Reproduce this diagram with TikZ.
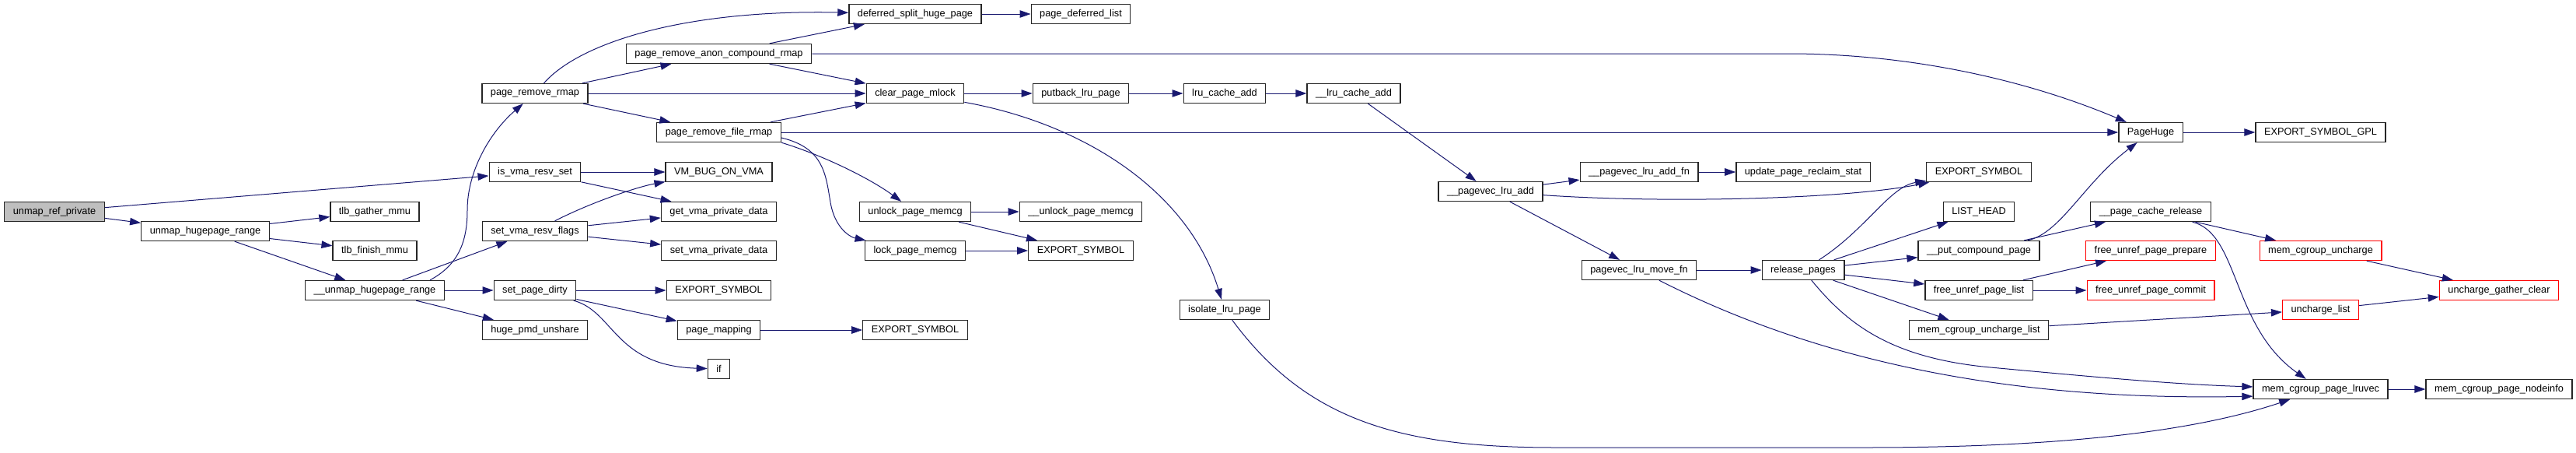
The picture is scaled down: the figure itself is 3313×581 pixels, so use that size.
\documentclass[tikz,border=0pt]{standalone}
\definecolor{dxBlue}{RGB}{25, 25, 112}
\definecolor{dxRed}{RGB}{255, 0, 0}
\definecolor{dxGray}{RGB}{191, 191, 191}
\usepackage{fontspec}
\setmainfont{Liberation Sans}
\usepackage{tikz}
\usetikzlibrary{arrows.meta}

\begin{document}
\begin{tikzpicture}[
    x=1pt, y=-1pt,
    fn/.style={rectangle, draw=black!85, fill=white, line width=1.3pt,
               minimum height=25pt, inner xsep=11pt, inner ysep=0pt,
               font=\fontsize{12.75}{14}\selectfont},
    fnroot/.style={fn, fill=dxGray},
    fntrunc/.style={fn, draw=dxRed},
    call/.style={-{Triangle[length=14pt, width=9.5pt]}, line width=1pt, dxBlue},
  ]
    \useasboundingbox (0,0) rectangle (3313,581);

    % Root and first callees
    \node[fnroot] (ref) at (70,272) {unmap\_ref\_private};
    \node[fn] (hpr) at (264,297) {unmap\_hugepage\_range};
    \node[fn] (tlbg) at (482,272) {tlb\_gather\_mmu};
    \node[fn] (tlbf) at (482,322) {tlb\_finish\_mmu};
    \node[fn] (uhpr) at (482,373) {\_\_unmap\_hugepage\_range};

    % Column 3
    \node[fn] (prr) at (688,120) {page\_remove\_rmap};
    \node[fn] (ivrs) at (688,221) {is\_vma\_resv\_set};
    \node[fn] (svrf) at (688,297) {set\_vma\_resv\_flags};
    \node[fn] (spd) at (688,373) {set\_page\_dirty};
    \node[fn] (hpu) at (688,424) {huge\_pmd\_unshare};

    % Column 4
    \node[fn] (pracr) at (924.5,69) {page\_remove\_anon\_compound\_rmap};
    \node[fn] (prfr) at (924.5,170) {page\_remove\_file\_rmap};
    \node[fn] (vmbug) at (924.5,221) {VM\_BUG\_ON\_VMA};
    \node[fn] (gvpd) at (924.5,272) {get\_vma\_private\_data};
    \node[fn] (svpd) at (924.5,322) {set\_vma\_private\_data};
    \node[fn] (exsA) at (924.5,373) {EXPORT\_SYMBOL};
    \node[fn] (pmap) at (924.5,424) {page\_mapping};
    \node[fn] (iff) at (924.5,474) {if};

    % Column 5
    \node[fn] (dshp) at (1177,18) {deferred\_split\_huge\_page};
    \node[fn] (cpm) at (1177,120) {clear\_page\_mlock};
    \node[fn] (upm) at (1177,272) {unlock\_page\_memcg};
    \node[fn] (lpm) at (1177,322) {lock\_page\_memcg};
    \node[fn] (exsB) at (1177,424) {EXPORT\_SYMBOL};

    % Column 6 to 9: lru chain
    \node[fn] (pdl) at (1390,18) {page\_deferred\_list};
    \node[fn] (plp) at (1390,120) {putback\_lru\_page};
    \node[fn] (uupm) at (1390,272) {\_\_unlock\_page\_memcg};
    \node[fn] (exsC) at (1390,322) {EXPORT\_SYMBOL};
    \node[fn] (lca) at (1575,120) {lru\_cache\_add};
    \node[fn] (ilp) at (1575,398) {isolate\_lru\_page};
    \node[fn] (ulca) at (1741,120) {\_\_lru\_cache\_add};
    \node[fn] (pvla) at (1917,246) {\_\_pagevec\_lru\_add};

    % Column 10 and 11
    \node[fn] (pvlaf) at (2108,221) {\_\_pagevec\_lru\_add\_fn};
    \node[fn] (pvmf) at (2108,347) {pagevec\_lru\_move\_fn};
    \node[fn] (upr) at (2319,221) {update\_page\_reclaim\_stat};
    \node[fn] (rp) at (2319,347) {release\_pages};

    % Column 12
    \node[fn] (exsD) at (2545,221) {EXPORT\_SYMBOL};
    \node[fn] (lh) at (2545,272) {LIST\_HEAD};
    \node[fn] (pcp) at (2545,322) {\_\_put\_compound\_page};
    \node[fn] (fupl) at (2545,373) {free\_unref\_page\_list};
    \node[fn] (mcul) at (2545,424) {mem\_cgroup\_uncharge\_list};

    % Column 13 to 15
    \node[fn] (ph) at (2766,170) {PageHuge};
    \node[fn] (pcr) at (2766,272) {\_\_page\_cache\_release};
    \node[fntrunc] (fupp) at (2766,322) {free\_unref\_page\_prepare};
    \node[fntrunc] (fupc) at (2766,373) {free\_unref\_page\_commit};
    \node[fn] (exsg) at (2984.5,170) {EXPORT\_SYMBOL\_GPL};
    \node[fntrunc] (mcu) at (2984.5,322) {mem\_cgroup\_uncharge};
    \node[fntrunc] (ul) at (2984.5,398) {uncharge\_list};
    \node[fn] (mcpl) at (2984.5,500) {mem\_cgroup\_page\_lruvec};
    \node[fntrunc] (ugc) at (3214,373) {uncharge\_gather\_clear};
    \node[fn] (mcpn) at (3214,500) {mem\_cgroup\_page\_nodeinfo};

    % Straight calls
    \foreach \a/\b in {ref/ivrs, ref/hpr, hpr/tlbg, hpr/tlbf, hpr/uhpr,
        uhpr/svrf, uhpr/spd, uhpr/hpu, prr/pracr, prr/cpm, prr/prfr,
        ivrs/vmbug, ivrs/gvpd, svrf/gvpd, svrf/svpd, spd/exsA, spd/pmap,
        pmap/exsB, pracr/dshp, pracr/cpm, prfr/cpm, prfr/ph, dshp/pdl,
        cpm/plp, plp/lca, lca/ulca, ulca/pvla, upm/uupm, upm/exsC, lpm/exsC,
        pvla/pvlaf, pvla/pvmf, pvlaf/upr, pvmf/rp, rp/lh, rp/pcp, rp/fupl,
        rp/mcul, pcp/pcr, fupl/fupp, fupl/fupc, mcul/ul, pcr/mcu, mcu/ugc,
        ul/ugc, ph/exsg, mcpl/mcpn} {
      \draw[call] (\a) -- (\b);
    }

    % Curved calls
    \draw[call] ([xshift=71pt]uhpr.north) .. controls (590,340) and (601,310) .. (601,270)
      .. controls (601,220) and (630,170) .. (prr);
    \draw[call] (prr) .. controls (745,55) and (880,12) .. (dshp);
    \draw[call] (svrf) .. controls (760,260) and (820,240) .. (vmbug);
    \draw[call] (spd) .. controls (790,400) and (790,470) .. (iff);
    \draw[call] (pracr) -- (2300,69) .. controls (2450,69) and (2600,100) .. (ph);
    \draw[call] (prfr.south east) .. controls (1060,200) and (1120,230) .. (upm);
    \draw[call] (prfr.-5) .. controls (1060,190) and (1062,225) .. (1068,260)
      .. controls (1074,295) and (1095,305) .. (lpm);
    \draw[call] (cpm) .. controls (1400,160) and (1530,250) .. (ilp);
    \draw[call] (ilp) .. controls (1680,540) and (1800,575) .. (2000,575) -- (2400,575)
      .. controls (2700,575) and (2850,545) .. (mcpl);
    \draw[call] (pvla) .. controls (2150,262) and (2380,255) .. (exsD);
    \draw[call] (pvmf) .. controls (2350,470) and (2600,515) .. (mcpl.186);
    \draw[call] (rp) .. controls (2400,295) and (2430,240) .. (exsD);
    \draw[call] (rp) .. controls (2375,415) and (2430,460) .. (2560,472)
      .. controls (2700,485) and (2800,494) .. (mcpl.178);
    \draw[call] (pcp) .. controls (2650,300) and (2680,235) .. (ph);
    \draw[call] (pcr) .. controls (2880,300) and (2870,420) .. (mcpl);
  \end{tikzpicture}
\end{document}
